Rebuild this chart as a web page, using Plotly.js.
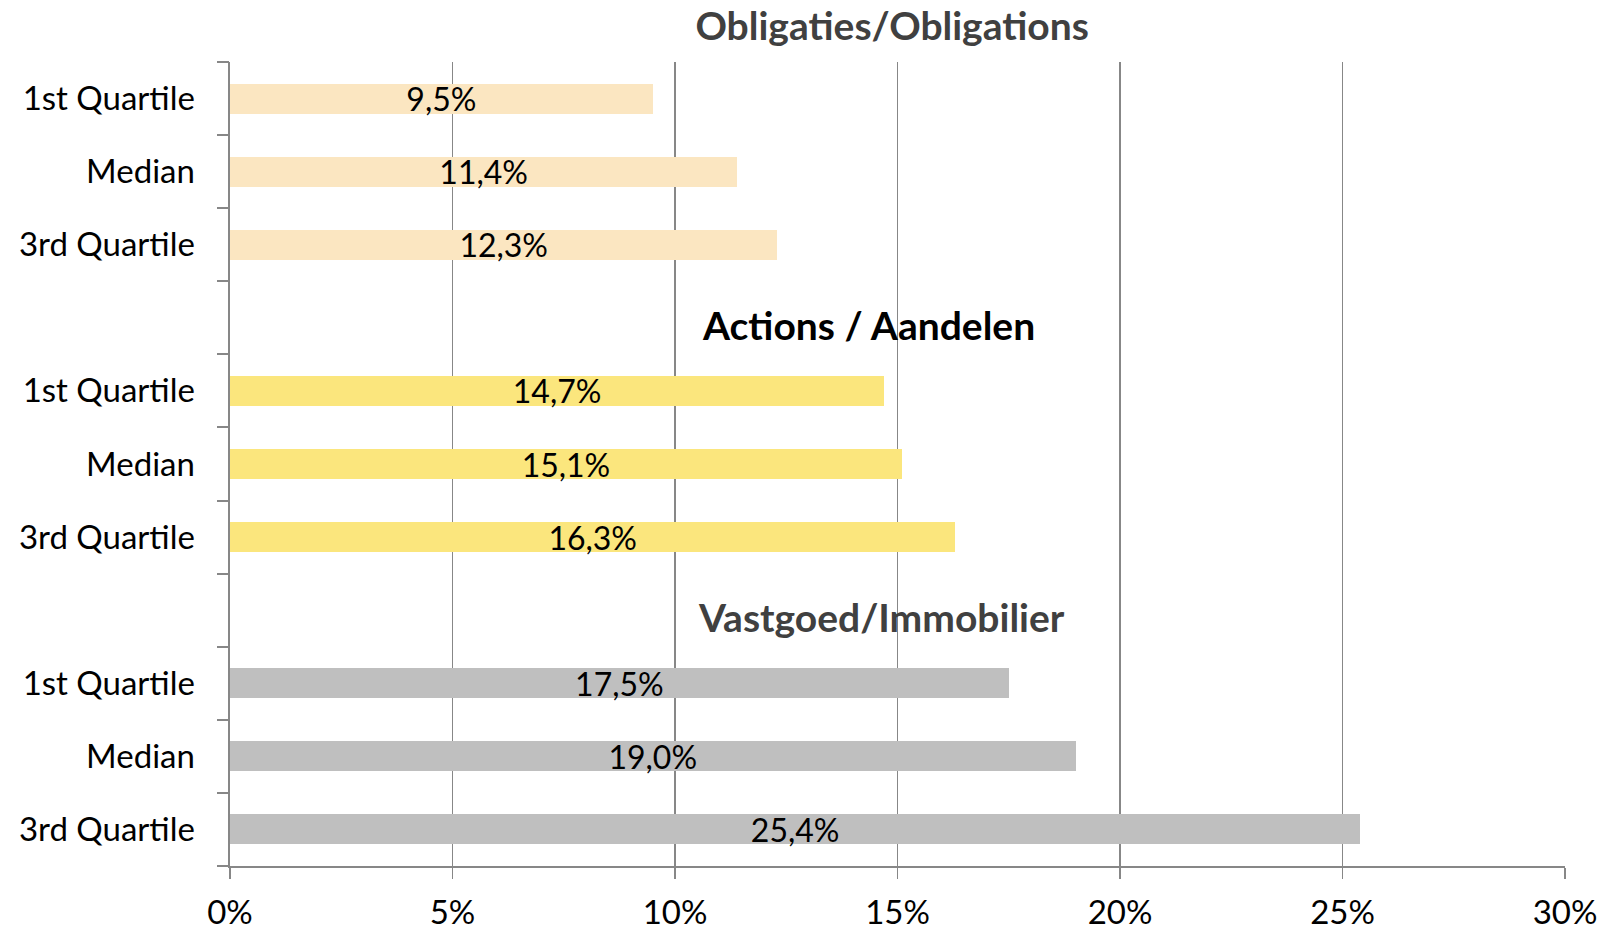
<!DOCTYPE html>
<html>
<head>
<meta charset="utf-8">
<script src="https://cdn.plot.ly/plotly-3.0.1.min.js"></script>
<style>html,body{margin:0;padding:0;background:#fff;}#chart{width:1611px;height:929px;}</style>
</head>
<body>
<div id="chart"></div>
<script>
// Data
const quartileLabels = ["1st Quartile", "Median", "3rd Quartile"];
const groupTitles = ["Obligaties/Obligations", "Actions / Aandelen", "Vastgoed/Immobilier"];
const obligationsValues = [9.5, 11.4, 12.3];
const actionsValues = [14.7, 15.1, 16.3];
const vastgoedValues = [17.5, 19.0, 25.4];
const xTickValues = [0, 5, 10, 15, 20, 25, 30];
const xTickLabels = ["0%", "5%", "10%", "15%", "20%", "25%", "30%"];

const groupValues = [obligationsValues, actionsValues, vastgoedValues];
const groupColors = ["#FBE6C1", "#FBE67D", "#BFBFBF"];
const titleColors = ["#404040", "#000000", "#404040"];
const titleXs = [0.496, 0.478, 0.488];

// build the category rows: 3 quartile rows per group, one empty row between groups
const rowLabels = [];
const groupRows = [];
groupValues.forEach((vals, g) => {
  if (g > 0) rowLabels.push("");
  const rows = [];
  vals.forEach((v, i) => { rows.push(rowLabels.length); rowLabels.push(quartileLabels[i]); });
  groupRows.push(rows);
});
const nRows = rowLabels.length;
const rowIdx = rowLabels.map((_, i) => i);
const boundaries = rowLabels.map((_, i) => i - 0.5).concat([nRows - 0.5]);

const fontFam = "Lato, 'Open Sans', sans-serif";
const fmt = v => v.toFixed(1).replace('.', ',') + '%';

const traces = groupValues.map((vals, g) => ({
  type: 'bar',
  orientation: 'h',
  x: vals,
  y: groupRows[g],
  width: 0.41,
  marker: {color: groupColors[g], line: {width: 0}},
  text: vals.map(fmt),
  textposition: 'inside',
  insidetextanchor: 'middle',
  constraintext: 'none',
  textangle: 0,
  textfont: {family: fontFam, size: 32, color: '#000000'},
  hoverinfo: 'skip',
  showlegend: false,
  cliponaxis: false
}));
// invisible trace on y2 to make the boundary tick axis render
traces.push({type: 'scatter', x: [0], y: [0], yaxis: 'y2', mode: 'markers', marker: {opacity: 0}, showlegend: false, hoverinfo: 'skip'});

const annotations = [1, 2].map(g => ({
  text: '<b>' + groupTitles[g] + '</b>',
  xref: 'paper', x: titleXs[g],
  yref: 'y', y: groupRows[g][0] - 1,
  xanchor: 'center', yanchor: 'middle',
  yshift: -7,
  showarrow: false,
  font: {family: fontFam, size: 39, color: titleColors[g]}
}));

const layout = {
  width: 1611, height: 929,
  margin: {l: 230, r: 46, t: 62, b: 63},
  paper_bgcolor: '#ffffff', plot_bgcolor: '#ffffff',
  title: {
    text: '<b>' + groupTitles[0] + '</b>',
    font: {family: fontFam, size: 39, color: titleColors[0]},
    x: titleXs[0], xref: 'paper', xanchor: 'center',
    y: 0.972, yref: 'container', yanchor: 'middle'
  },
  bargap: 0,
  xaxis: {
    range: [0, 30],
    tickmode: 'array', tickvals: xTickValues, ticktext: xTickLabels,
    showgrid: true, gridcolor: '#878787', gridwidth: 1.5,
    showline: true, linecolor: '#878787', linewidth: 2,
    ticks: 'outside', ticklen: 11, tickcolor: '#878787', tickwidth: 1.5,
    ticklabelstandoff: 5,
    zeroline: false,
    tickfont: {family: fontFam, size: 33, color: '#000000'},
    fixedrange: true
  },
  yaxis: {
    range: [nRows - 0.5, -0.5],
    tickmode: 'array', tickvals: rowIdx, ticktext: rowLabels,
    ticks: '', showgrid: false, zeroline: false,
    showline: true, linecolor: '#878787', linewidth: 2.5,
    ticklabelstandoff: 26,
    tickfont: {family: fontFam, size: 33, color: '#000000'},
    fixedrange: true
  },
  yaxis2: {
    overlaying: 'y', side: 'left',
    range: [nRows - 0.5, -0.5],
    tickmode: 'array', tickvals: boundaries, ticktext: boundaries.map(() => ''),
    ticks: 'outside', ticklen: 12, tickcolor: '#878787', tickwidth: 2,
    showticklabels: false, showgrid: false, zeroline: false, showline: false,
    fixedrange: true
  },
  annotations: annotations
};

Plotly.newPlot('chart', traces, layout, {displayModeBar: false, staticPlot: true});
</script>
</body>
</html>
